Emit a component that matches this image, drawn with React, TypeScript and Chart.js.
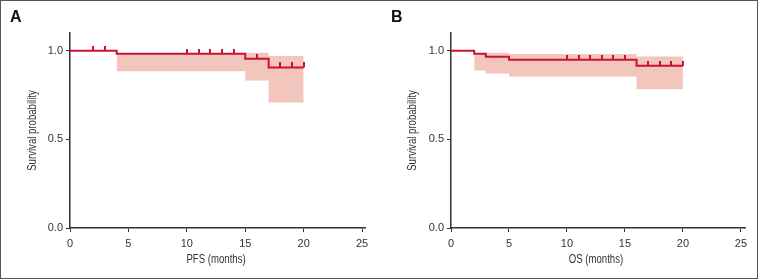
import React, { useEffect, useRef } from "react";
import { Chart, registerables } from "chart.js";
Chart.register(...registerables);

// ---- data ----
const xTickValues = [0, 5, 10, 15, 20, 25];
const yTickValues = [0, 0.5, 1.0];
const yTitle = "Survival probability";

const pfsTimes = [0, 4, 15, 17, 20];
const pfsSurv = [1.0, 0.983, 0.955, 0.906, 0.906];
const pfsCiTimes = [4, 15, 17, 20];
const pfsUpper = [0.983, 0.988, 0.97, 0.97];
const pfsLower = [0.884, 0.832, 0.708, 0.708];
const pfsCensorTimes = [2, 3, 10, 11, 12, 13, 14, 16, 18, 19, 20];
const pfsCensorSurv = [1.0, 1.0, 0.983, 0.983, 0.983, 0.983, 0.983, 0.955, 0.906, 0.906, 0.906];

const osTimes = [0, 2, 3, 5, 16, 20];
const osSurv = [1.0, 0.983, 0.966, 0.949, 0.915, 0.915];
const osCiTimes = [2, 3, 5, 16, 20];
const osUpper = [0.983, 0.988, 0.982, 0.967, 0.967];
const osLower = [0.889, 0.872, 0.854, 0.782, 0.782];
const osCensorTimes = [10, 11, 12, 13, 14, 15, 17, 18, 19, 20];
const osCensorSurv = [0.949, 0.949, 0.949, 0.949, 0.949, 0.949, 0.915, 0.915, 0.915, 0.915];

const LINE = "#cc1036";
const FILL = "#f2c6bd";
const AXIS = "#333333";
const TICKFONT = { family: "'Liberation Sans', Arial, sans-serif", size: 11 };
const TITLE_CSS = "12px 'Liberation Sans', Arial, sans-serif";
const NARROW = 0.8;

const pts = (xs: number[], ys: number[]) => xs.map((x, i) => ({ x, y: ys[i] }));

function makeMarker() {
  const c = document.createElement("canvas");
  c.width = 2;
  c.height = 10;
  const g = c.getContext("2d")!;
  g.fillStyle = LINE;
  g.fillRect(0, 0, 2, 5);
  return c;
}

type PanelProps = {
  left: number;
  axisLeft: number;
  axisRight: number;
  xMax: number;
  xTitle: string;
  yTitleX: number;
  times: number[];
  surv: number[];
  ciTimes: number[];
  upper: number[];
  lower: number[];
  cTimes: number[];
  cSurv: number[];
};

function Panel(p: PanelProps) {
  const ref = useRef<HTMLCanvasElement | null>(null);
  useEffect(() => {
    const marker = makeMarker();
    const titlesPlugin = {
      id: "narrowTitles",
      afterDraw(chart: any) {
        const ctx = chart.ctx;
        const xs = chart.scales.x;
        const ca = chart.chartArea;
        ctx.save();
        ctx.font = TITLE_CSS;
        ctx.fillStyle = AXIS;
        ctx.textAlign = "center";
        ctx.textBaseline = "middle";
        const cx = (xs.getPixelForValue(xTickValues[0]) + xs.getPixelForValue(xTickValues[xTickValues.length - 1])) / 2;
        ctx.save();
        ctx.translate(cx, 260);
        ctx.scale(NARROW, 1);
        ctx.fillText(p.xTitle, 0, 0);
        ctx.restore();
        ctx.save();
        ctx.translate(p.yTitleX, (ca.top + ca.bottom) / 2);
        ctx.rotate(-Math.PI / 2);
        ctx.scale(NARROW, 1);
        ctx.fillText(yTitle, 0, 0);
        ctx.restore();
        ctx.restore();
      },
    };
    const chart = new Chart(ref.current!, {
      type: "line",
      data: {
        datasets: [
          {
            data: pts(p.cTimes, p.cSurv),
            showLine: false,
            pointStyle: marker as any,
            pointRadius: 5,
            borderColor: LINE,
            backgroundColor: LINE,
          },
          {
            data: pts(p.times, p.surv),
            stepped: "before",
            borderColor: LINE,
            borderWidth: 2,
            pointRadius: 0,
            fill: false,
          },
          {
            data: pts(p.ciTimes, p.upper),
            stepped: "before",
            borderWidth: 0,
            borderColor: "rgba(0,0,0,0)",
            backgroundColor: FILL,
            pointRadius: 0,
            fill: "+1",
          },
          {
            data: pts(p.ciTimes, p.lower),
            stepped: "before",
            borderWidth: 0,
            borderColor: "rgba(0,0,0,0)",
            pointRadius: 0,
            fill: false,
          },
        ],
      },
      options: {
        animation: false,
        responsive: false,
        maintainAspectRatio: false,
        layout: { padding: { left: 0, top: 33, right: 379 - p.axisRight, bottom: 0 } },
        plugins: { legend: { display: false }, tooltip: { enabled: false } },
        events: [],
        scales: {
          x: {
            type: "linear",
            min: 0,
            max: p.xMax,
            afterBuildTicks: (s: any) => {
              s.ticks = xTickValues.map((v) => ({ value: v }));
            },
            afterFit: (s: any) => {
              s.height = 51;
            },
            grid: { drawOnChartArea: false, drawTicks: true, tickLength: 4, color: AXIS, lineWidth: 1 },
            border: { display: true, color: AXIS, width: 1.5 },
            ticks: { color: AXIS, font: TICKFONT, padding: 5, maxRotation: 0, autoSkip: false },
            title: { display: false },
          },
          y: {
            type: "linear",
            min: 0,
            max: 1.1,
            afterBuildTicks: (s: any) => {
              s.ticks = yTickValues.map((v) => ({ value: v }));
            },
            afterFit: (s: any) => {
              s.width = p.axisLeft;
            },
            grid: { drawOnChartArea: false, drawTicks: true, tickLength: 4, color: AXIS, lineWidth: 1 },
            border: { display: true, color: AXIS, width: 1.5 },
            ticks: { color: AXIS, font: TICKFONT, padding: 3, callback: (v: any) => Number(v).toFixed(1) },
            title: { display: false },
          },
        },
      } as any,
      plugins: [titlesPlugin],
    });
    return () => chart.destroy();
  }, []);
  return (
    <canvas
      ref={ref}
      width={379}
      height={279}
      style={{ position: "absolute", left: p.left, top: 0, width: 379, height: 279 }}
    />
  );
}

const letterStyle: React.CSSProperties = {
  position: "absolute",
  top: 9,
  fontFamily: "'Liberation Sans', Arial, sans-serif",
  fontWeight: "bold",
  fontSize: 16,
  lineHeight: "16px",
  color: "#111",
};

export default function App() {
  return (
    <div style={{ position: "absolute", left: 0, top: 0, width: 758, height: 279, background: "#fff", overflow: "hidden" }}>
      <Panel
        left={0}
        axisLeft={70}
        axisRight={365}
        xMax={25.25}
        xTitle="PFS (months)"
        yTitleX={33}
        times={pfsTimes}
        surv={pfsSurv}
        ciTimes={pfsCiTimes}
        upper={pfsUpper}
        lower={pfsLower}
        cTimes={pfsCensorTimes}
        cSurv={pfsCensorSurv}
      />
      <Panel
        left={379}
        axisLeft={72}
        axisRight={366}
        xMax={25.35}
        xTitle="OS (months)"
        yTitleX={34}
        times={osTimes}
        surv={osSurv}
        ciTimes={osCiTimes}
        upper={osUpper}
        lower={osLower}
        cTimes={osCensorTimes}
        cSurv={osCensorSurv}
      />
      <div style={{ ...letterStyle, left: 10 }}>A</div>
      <div style={{ ...letterStyle, left: 391 }}>B</div>
      <div
        style={{
          position: "absolute",
          left: 0,
          top: 0,
          width: 758,
          height: 279,
          boxSizing: "border-box",
          border: "1px solid #555",
          pointerEvents: "none",
        }}
      />
    </div>
  );
}
